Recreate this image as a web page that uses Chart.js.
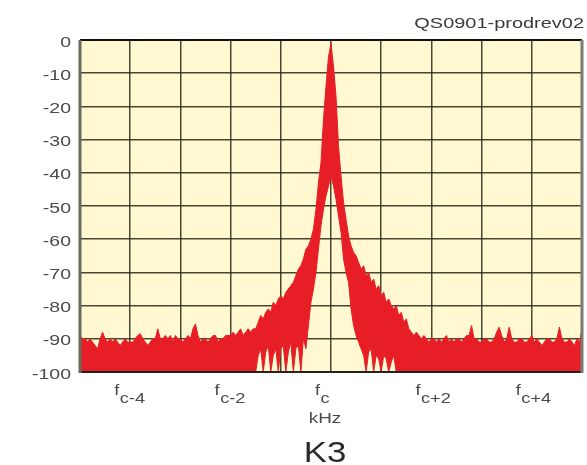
<!DOCTYPE html>
<html><head><meta charset="utf-8">
<style>html,body{margin:0;padding:0;background:#fff}#wrap{width:587px;height:465px}</style>
<script src="https://cdn.jsdelivr.net/npm/chart.js@4.4.1/dist/chart.umd.min.js"></script>
</head><body><div id="wrap"><canvas id="c" width="587" height="465"></canvas></div>
<script>
// Frequency offset from carrier (kHz)
const freq = [
-5,-4.95,-4.9,-4.85,-4.8,-4.75,-4.7,-4.65,-4.6,-4.55,
-4.5,-4.45,-4.4,-4.35,-4.3,-4.25,-4.2,-4.15,-4.1,-4.05,
-4,-3.95,-3.9,-3.85,-3.8,-3.75,-3.7,-3.65,-3.6,-3.55,
-3.5,-3.45,-3.4,-3.35,-3.3,-3.25,-3.2,-3.15,-3.1,-3.05,
-3,-2.95,-2.9,-2.85,-2.8,-2.75,-2.7,-2.65,-2.6,-2.55,
-2.5,-2.45,-2.4,-2.35,-2.3,-2.25,-2.2,-2.15,-2.1,-2.05,
-2,-1.95,-1.9,-1.85,-1.8,-1.75,-1.7,-1.65,-1.6,-1.55,
-1.5,-1.45,-1.4,-1.35,-1.3,-1.25,-1.2,-1.15,-1.1,-1.05,
-1,-0.95,-0.9,-0.85,-0.8,-0.75,-0.7,-0.65,-0.6,-0.55,
-0.5,-0.45,-0.4,-0.35,-0.3,-0.25,-0.2,-0.15,-0.1,-0.05,
0,
0.05,0.1,0.15,0.2,0.25,0.3,0.35,0.4,0.45,0.5,
0.55,0.6,0.65,0.7,0.75,0.8,0.85,0.9,0.95,1,
1.05,1.1,1.15,1.2,1.25,1.3,1.35,1.4,1.45,1.5,
1.55,1.6,1.65,1.7,1.75,1.8,1.85,1.9,1.95,2,
2.05,2.1,2.15,2.2,2.25,2.3,2.35,2.4,2.45,2.5,
2.55,2.6,2.65,2.7,2.75,2.8,2.85,2.9,2.95,3,
3.05,3.1,3.15,3.2,3.25,3.3,3.35,3.4,3.45,3.5,
3.55,3.6,3.65,3.7,3.75,3.8,3.85,3.9,3.95,4,
4.05,4.1,4.15,4.2,4.25,4.3,4.35,4.4,4.45,4.5,
4.55,4.6,4.65,4.7,4.75,4.8,4.85,4.9,4.95,5
];
// Upper envelope of the trace (dB)
const upper = [
-89,-90,-90,-91,-90,-91,-92,-93,-90,-88,
-90,-91,-90,-91,-90,-91,-92,-91,-90,-91,
-91,-91,-90,-89,-88.5,-90,-91,-92,-91,-90,
-90,-87,-90,-90,-89,-90,-89,-91,-89,-90,
-90,-91,-90,-89,-90,-87,-85.5,-89,-91,-90,
-90,-91,-90,-89,-89,-91,-90,-90,-89,-89,
-89,-88,-89,-88,-87,-89,-88,-87,-88,-87,
-87,-85,-83,-84,-82,-81,-82,-79,-80,-78,
-77,-78,-76,-75,-74,-73,-71,-69,-68,-66,
-63,-62,-60,-57,-51,-43,-37,-24,-14,-5,
-1,
-8,-17,-32,-41,-49,-54,-59,-62,-64,-65,
-67,-69,-68,-71,-70,-73,-72,-75,-74,-77,
-76,-79,-78,-80,-81,-80,-83,-82,-85,-84,
-87,-88,-89,-88,-89,-90,-89,-90,-91,-90,
-90,-91,-90,-91,-90,-89,-91,-90,-91,-90,
-90,-91,-90,-89,-89,-86,-90,-90,-91,-91,
-90,-90,-91,-91,-90,-88,-86.5,-89,-91,-90,
-86.5,-90,-91,-91,-90,-90,-91,-91,-90,-89,
-91,-90,-91,-92,-91,-90,-90,-91,-91,-90,
-86.5,-90,-91,-91,-90,-91,-92,-90,-91,-87
];
// Lower envelope of the trace (dB)
const lower = [
-100,-100,-100,-100,-100,-100,-100,-100,-100,-100,
-100,-100,-100,-100,-100,-100,-100,-100,-100,-100,
-100,-100,-100,-100,-100,-100,-100,-100,-100,-100,
-100,-100,-100,-100,-100,-100,-100,-100,-100,-100,
-100,-100,-100,-100,-100,-100,-100,-100,-100,-100,
-100,-100,-100,-100,-100,-100,-100,-100,-100,-100,
-100,-100,-100,-100,-100,-100,-100,-100,-100,-100,
-100,-95,-93,-100,-94,-92,-100,-95,-93,-100,
-93,-92,-100,-94,-91,-100,-93,-92,-100,-90,
-93,-86,-79,-75,-70,-63,-56,-51,-47,-44,
-41,
-44,-48,-53,-58,-66,-70,-73,-81,-86,-89,
-91,-93,-95,-100,-94,-93,-100,-95,-96,-100,
-95,-96,-100,-97,-95,-100,-100,-100,-100,-100,
-100,-100,-100,-100,-100,-100,-100,-100,-100,-100,
-100,-100,-100,-100,-100,-100,-100,-100,-100,-100,
-100,-100,-100,-100,-100,-100,-100,-100,-100,-100,
-100,-100,-100,-100,-100,-100,-100,-100,-100,-100,
-100,-100,-100,-100,-100,-100,-100,-100,-100,-100,
-100,-100,-100,-100,-100,-100,-100,-100,-100,-100,
-100,-100,-100,-100,-100,-100,-100,-100,-100,-100
];
const yTickValues = [0,-10,-20,-30,-40,-50,-60,-70,-80,-90,-100];
const xTickValues = [-4,-2,0,2,4];
const xTickMain = 'f';
const xTickSubs = ['c-4','c-2','c','c+2','c+4'];
const chartId = 'QS0901-prodrev02';
const xTitle = 'kHz';
const chartTitle = 'K3';

const RED = 'rgb(232,30,38)';

function sText(ctx, txt, x, y, font, color, align, sx) {
  ctx.save();
  ctx.font = font; ctx.fillStyle = color; ctx.textBaseline = 'alphabetic';
  ctx.translate(x, y); ctx.scale(sx, 1); ctx.textAlign = align;
  ctx.fillText(txt, 0, 0);
  ctx.restore();
}

const deco = {
  id: 'deco',
  beforeDraw(chart) {
    const {ctx, chartArea: a} = chart;
    ctx.save();
    ctx.fillStyle = '#ffffff'; ctx.fillRect(0, 0, chart.width, chart.height);
    ctx.fillStyle = '#FFF8D0'; ctx.fillRect(a.left, a.top, a.right - a.left, a.bottom - a.top);
    ctx.restore();
  },
  afterDraw(chart) {
    const {ctx, chartArea: a} = chart;
    const xs = chart.scales.x, ys = chart.scales.y;
    ctx.save();
    // frame
    ctx.strokeStyle = '#111'; ctx.lineWidth = 2;
    ctx.beginPath(); ctx.moveTo(a.left, a.top); ctx.lineTo(a.right, a.top); ctx.stroke();
    ctx.strokeStyle = '#222'; ctx.lineWidth = 2;
    ctx.beginPath(); ctx.moveTo(a.left, a.bottom); ctx.lineTo(a.right, a.bottom); ctx.stroke();
    ctx.strokeStyle = '#6a6a60'; ctx.lineWidth = 3;
    ctx.beginPath(); ctx.moveTo(a.left, a.top); ctx.lineTo(a.left, a.bottom + 1); ctx.stroke();
    ctx.strokeStyle = '#7a7a72'; ctx.lineWidth = 3;
    ctx.beginPath(); ctx.moveTo(a.right, a.top); ctx.lineTo(a.right, a.bottom + 1); ctx.stroke();
    ctx.restore();
    // y tick labels
    yTickValues.forEach(v => {
      const py = ys.getPixelForValue(v);
      sText(ctx, String(v), a.left - 9, py + 6.5, '15px "Liberation Sans", Arial, sans-serif', '#4a4a4a', 'right', 1.3);
    });
    // x tick labels: f with subscript
    xTickValues.forEach((v, i) => {
      const px = xs.getPixelForValue(v);
      const x0 = px - 16;
      ctx.save();
      ctx.font = '14px "Liberation Sans", Arial, sans-serif';
      const fw = ctx.measureText(xTickMain).width * 1.3;
      ctx.restore();
      sText(ctx, xTickMain, x0, a.bottom + 23, '14px "Liberation Sans", Arial, sans-serif', '#4a4a4a', 'left', 1.3);
      sText(ctx, xTickSubs[i], x0 + fw + 0.5, a.bottom + 31, '14px "Liberation Sans", Arial, sans-serif', '#4a4a4a', 'left', 1.3);
    });
    sText(ctx, xTitle, xs.getPixelForValue(0) - 6, a.bottom + 51, '14px "Liberation Sans", Arial, sans-serif', '#4a4a4a', 'center', 1.35);
    sText(ctx, chartTitle, xs.getPixelForValue(0) - 6, 462, '29px "Liberation Sans", Arial, sans-serif', '#2a2a2a', 'center', 1.2);
    sText(ctx, chartId, 584, 28, '15px "Liberation Sans", Arial, sans-serif', '#3a3a3a', 'right', 1.33);
  }
};

new Chart(document.getElementById('c'), {
  type: 'line',
  data: {
    datasets: [
      { label: 'lower', data: lower.map((v, i) => ({x: freq[i], y: v})),
        borderColor: RED, borderWidth: 1, pointRadius: 0, fill: false, tension: 0 },
      { label: 'upper', data: upper.map((v, i) => ({x: freq[i], y: v})),
        borderColor: RED, backgroundColor: RED, borderWidth: 1, pointRadius: 0, fill: '-1', tension: 0 }
    ]
  },
  options: {
    responsive: false, devicePixelRatio: 1, animation: false,
    layout: { padding: { top: 40, right: 5, left: 0, bottom: 0 } },
    plugins: { legend: { display: false }, title: { display: false }, tooltip: { enabled: false } },
    scales: {
      x: { type: 'linear', min: -5, max: 5,
        ticks: { display: false, stepSize: 1 },
        grid: { color: 'rgba(40,40,20,0.85)', lineWidth: 1.5, drawTicks: false },
        border: { display: false },
        afterFit: s => { s.height = 93; } },
      y: { type: 'linear', min: -100, max: 0,
        ticks: { display: false, stepSize: 10 },
        grid: { color: 'rgba(40,40,20,0.85)', lineWidth: 1.5, drawTicks: false },
        border: { display: false },
        afterFit: s => { s.width = 80; } }
    }
  },
  plugins: [deco]
});
</script>
</body></html>
